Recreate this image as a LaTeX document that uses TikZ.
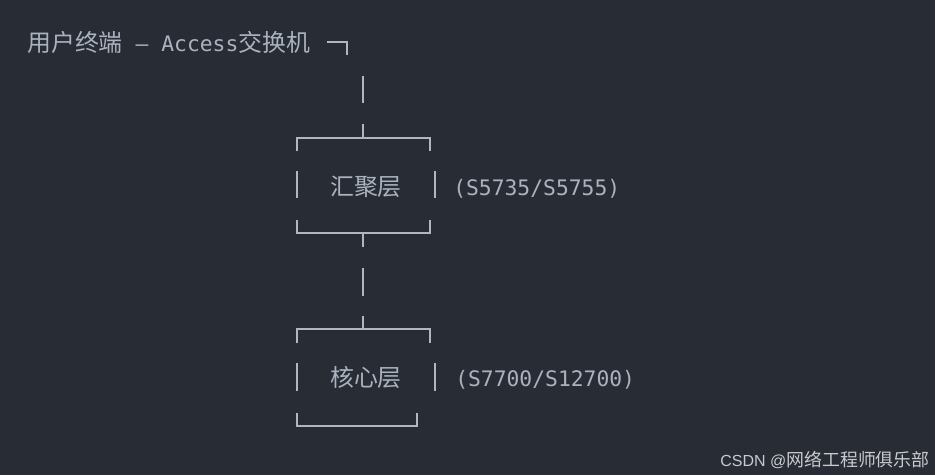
\documentclass[tikz,border=0pt]{standalone}
\usepackage{fontspec}
\setmainfont{DejaVu Sans Mono}
\newfontfamily\cjk[Scale=1.12]{Noto Sans CJK SC}
\newfontfamily\wmfont{Liberation Sans}
\definecolor{sfondo}{HTML}{282C34}
\definecolor{testo}{HTML}{ABB2BF}
\definecolor{bordo}{HTML}{B0B6C2}
\definecolor{firma}{HTML}{C8CACE}

\begin{document}
\begin{tikzpicture}[x=0.75pt,y=-0.75pt]
\tikzstyle{scritta} = [text=testo, font=\fontsize{16}{18}\selectfont, inner sep=0pt]
\tikzstyle{linea} = [draw=bordo, line width=1.2pt]
\fill[sfondo] (0,0) rectangle (935,475);
\node[scritta, anchor=base west] (access) at (27,51) {{\cjk 用户终端} – Access{\cjk 交换机}};
\node[scritta, anchor=base] (aggr) at (366,195) {\cjk 汇聚层};
\node[scritta, anchor=base west] (aggrsw) at (453,195) {(S5735/S5755)};
\node[scritta, anchor=base] (core) at (366,386) {\cjk 核心层};
\node[scritta, anchor=base west] (coresw) at (455,386) {(S7700/S12700)};
\node[text=firma, font=\wmfont\fontsize{12}{14}\selectfont, anchor=base east, inner sep=0pt] (csdn) at (930,466) {CSDN @{\cjk 网络工程师俱乐部}};
% accesso -> aggregazione
\draw[linea] (327,42) -- (347,42) -- (347,55);
\draw[linea] (363,76) -- (363,103);
\draw[linea] (363,124) -- (363,138);
% box aggregazione
\draw[linea] (297,151) -- (297,138) -- (430,138) -- (430,151);
\draw[linea] (297,171) -- (297,198);
\draw[linea] (435,171) -- (435,198);
\draw[linea] (297,220) -- (297,233) -- (430,233) -- (430,220);
% aggregazione -> core
\draw[linea] (363,233) -- (363,247);
\draw[linea] (363,268) -- (363,296);
\draw[linea] (363,316) -- (363,329);
% box core
\draw[linea] (297,343) -- (297,329) -- (430,329) -- (430,343);
\draw[linea] (297,363) -- (297,391);
\draw[linea] (435,363) -- (435,391);
\draw[linea] (297,413) -- (297,426) -- (417,426) -- (417,413);
\end{tikzpicture}
\end{document}
